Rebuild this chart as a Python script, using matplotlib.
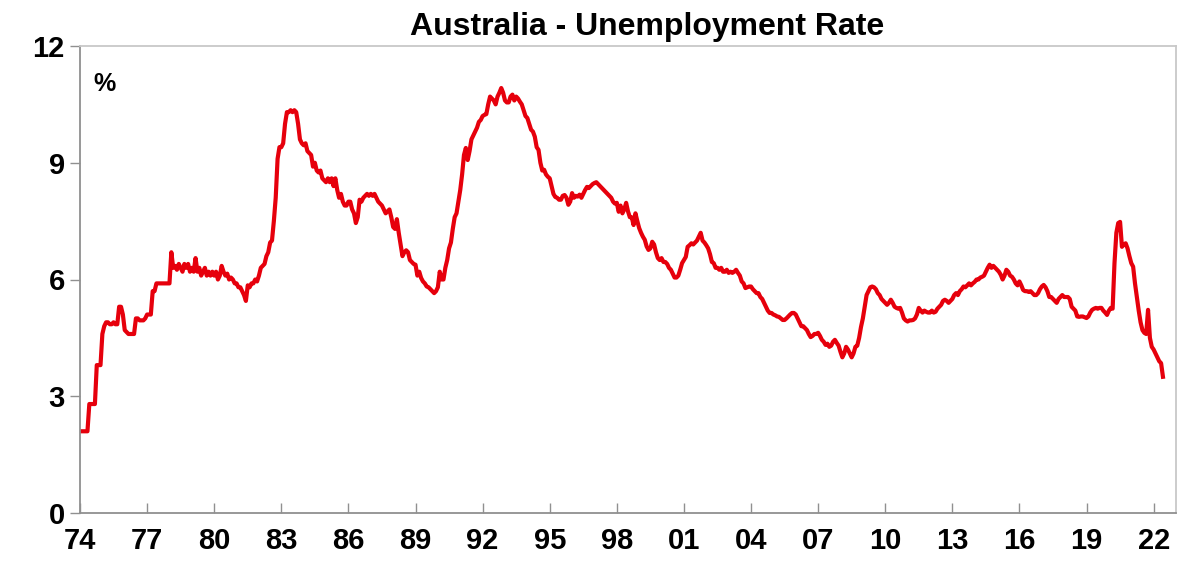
import matplotlib
matplotlib.use("Agg")
import matplotlib.pyplot as plt
import numpy as np

plt.rcParams['font.family'] = ['Liberation Sans', 'DejaVu Sans']

# monthly unemployment rate (%), Jan 1974 onwards
rate_1970s = [
    2.1, 2.1, 2.1, 2.1, 2.1, 2.8, 2.8, 2.8, 2.8, 3.8, 3.8, 3.8,          # 1974
    4.6, 4.8, 4.9, 4.9, 4.85, 4.85, 4.9, 4.85, 4.85, 5.3, 5.3, 5.1,      # 1975
    4.7, 4.65, 4.6, 4.6, 4.6, 4.6, 5.0, 5.0, 4.95, 4.95, 4.95, 5.0,      # 1976
    5.1, 5.1, 5.1, 5.7, 5.7, 5.9, 5.9, 5.9, 5.9, 5.9, 5.9, 5.9,          # 1977
    5.9, 6.7, 6.3, 6.35, 6.25, 6.4, 6.3, 6.2, 6.4, 6.3, 6.4, 6.2,        # 1978
    6.3, 6.2, 6.55, 6.2, 6.3, 6.1, 6.2, 6.3, 6.1, 6.2, 6.1, 6.2,         # 1979
]
rate_1980s = [
    6.1, 6.2, 6.0, 6.1, 6.35, 6.2, 6.1, 6.15, 6.0, 6.05, 6.0, 5.9,       # 1980
    5.9, 5.8, 5.8, 5.7, 5.6, 5.45, 5.85, 5.8, 5.9, 5.9, 6.0, 5.95,       # 1981
    6.1, 6.3, 6.35, 6.4, 6.6, 6.7, 6.95, 7.0, 7.5, 8.1, 9.1, 9.4,        # 1982
    9.4, 9.5, 10.0, 10.3, 10.3, 10.35, 10.3, 10.35, 10.3, 10.0, 9.6, 9.5,  # 1983
    9.45, 9.5, 9.3, 9.25, 9.2, 8.9, 9.0, 8.8, 8.75, 8.8, 8.6, 8.55,      # 1984
    8.5, 8.6, 8.5, 8.6, 8.4, 8.6, 8.3, 8.1, 8.2, 8.0, 7.9, 7.9,          # 1985
    8.0, 8.0, 7.8, 7.7, 7.45, 7.6, 8.05, 8.0, 8.1, 8.15, 8.2, 8.15,      # 1986
    8.2, 8.15, 8.2, 8.1, 8.0, 7.95, 7.9, 7.8, 7.7, 7.75, 7.8, 7.6,       # 1987
    7.35, 7.3, 7.55, 7.2, 6.9, 6.6, 6.7, 6.75, 6.7, 6.5, 6.45, 6.4,      # 1988
    6.38, 6.1, 6.2, 6.04, 5.95, 5.9, 5.82, 5.8, 5.75, 5.7, 5.65, 5.7,    # 1989
]
rate_1990s = [
    5.8, 6.2, 6.0, 6.0, 6.3, 6.5, 6.8, 6.95, 7.3, 7.6, 7.7, 8.0,         # 1990
    8.3, 8.7, 9.2, 9.38, 9.07, 9.3, 9.6, 9.7, 9.8, 9.9, 10.05, 10.1,     # 1991
    10.2, 10.23, 10.25, 10.5, 10.7, 10.65, 10.6, 10.5, 10.7, 10.8, 10.92, 10.8,  # 1992
    10.6, 10.55, 10.55, 10.7, 10.75, 10.6, 10.7, 10.65, 10.57, 10.5, 10.35, 10.2,  # 1993
    10.15, 10.0, 9.85, 9.8, 9.67, 9.4, 9.33, 9.0, 8.8, 8.82, 8.7, 8.64,  # 1994
    8.6, 8.4, 8.2, 8.12, 8.1, 8.05, 8.05, 8.15, 8.17, 8.1, 7.92, 8.0,    # 1995
    8.22, 8.1, 8.15, 8.13, 8.18, 8.1, 8.2, 8.3, 8.38, 8.35, 8.4, 8.45,   # 1996
    8.48, 8.5, 8.45, 8.4, 8.35, 8.3, 8.25, 8.2, 8.15, 8.1, 8.0, 7.95,    # 1997
    7.97, 7.74, 7.9, 7.7, 7.8, 7.97, 7.75, 7.6, 7.6, 7.4, 7.7, 7.5,      # 1998
    7.32, 7.2, 7.1, 7.02, 6.85, 6.76, 6.8, 6.97, 6.9, 6.7, 6.55, 6.5,    # 1999
]
rate_2000s = [
    6.55, 6.45, 6.45, 6.4, 6.3, 6.25, 6.15, 6.05, 6.05, 6.1, 6.25, 6.42,  # 2000
    6.5, 6.58, 6.84, 6.88, 6.93, 6.9, 6.95, 7.0, 7.1, 7.2, 7.0, 6.95,    # 2001
    6.88, 6.8, 6.65, 6.45, 6.42, 6.3, 6.3, 6.25, 6.3, 6.2, 6.2, 6.25,    # 2002
    6.17, 6.2, 6.17, 6.2, 6.25, 6.17, 6.1, 5.95, 5.9, 5.78, 5.8, 5.82,   # 2003
    5.82, 5.75, 5.7, 5.65, 5.65, 5.55, 5.5, 5.4, 5.3, 5.2, 5.14, 5.14,   # 2004
    5.1, 5.08, 5.05, 5.04, 5.0, 4.96, 4.96, 5.0, 5.05, 5.1, 5.14, 5.14,  # 2005
    5.1, 5.0, 4.9, 4.8, 4.8, 4.75, 4.7, 4.6, 4.52, 4.55, 4.6, 4.6,       # 2006
    4.63, 4.55, 4.45, 4.4, 4.32, 4.35, 4.27, 4.3, 4.4, 4.45, 4.37, 4.3,  # 2007
    4.14, 4.0, 4.1, 4.27, 4.2, 4.1, 4.0, 4.1, 4.27, 4.3, 4.5, 4.78,      # 2008
    5.0, 5.3, 5.6, 5.7, 5.8, 5.82, 5.8, 5.75, 5.65, 5.6, 5.5, 5.45,      # 2009
]
rate_2010s = [
    5.4, 5.35, 5.4, 5.48, 5.4, 5.3, 5.27, 5.25, 5.27, 5.15, 5.0, 4.95,   # 2010
    4.92, 4.95, 4.95, 4.96, 5.0, 5.1, 5.27, 5.2, 5.15, 5.2, 5.17, 5.15,  # 2011
    5.15, 5.2, 5.15, 5.17, 5.25, 5.3, 5.35, 5.45, 5.48, 5.45, 5.4, 5.45,  # 2012
    5.5, 5.6, 5.65, 5.6, 5.7, 5.75, 5.82, 5.8, 5.85, 5.9, 5.85, 5.9,     # 2013
    5.94, 6.0, 6.0, 6.05, 6.07, 6.1, 6.2, 6.3, 6.38, 6.3, 6.35, 6.3,     # 2014
    6.25, 6.2, 6.12, 6.0, 6.1, 6.25, 6.2, 6.1, 6.07, 6.0, 5.9, 5.85,     # 2015
    5.95, 5.85, 5.73, 5.7, 5.7, 5.68, 5.7, 5.65, 5.6, 5.6, 5.65, 5.75,   # 2016
    5.82, 5.86, 5.8, 5.7, 5.55, 5.55, 5.5, 5.45, 5.4, 5.5, 5.55, 5.6,    # 2017
    5.55, 5.55, 5.55, 5.5, 5.3, 5.25, 5.2, 5.05, 5.04, 5.05, 5.05, 5.03,  # 2018
    5.01, 5.05, 5.15, 5.22, 5.25, 5.27, 5.25, 5.27, 5.27, 5.2, 5.15, 5.09,  # 2019
]
rate_2020s = [
    5.2, 5.27, 5.25, 6.42, 7.2, 7.45, 7.48, 6.84, 6.9, 6.93, 6.8, 6.6,   # 2020
    6.42, 6.33, 5.9, 5.55, 5.2, 4.9, 4.7, 4.63, 4.6, 5.22, 4.5, 4.27,    # 2021
    4.2, 4.1, 4.0, 3.9, 3.85, 3.5,                                       # 2022 (to Jun)
]
start_year = 1974

year_ticks = list(range(1974, 2023, 3))
year_labels = ['74', '77', '80', '83', '86', '89', '92', '95', '98',
               '01', '04', '07', '10', '13', '16', '19', '22']
y_ticks = [0, 3, 6, 9, 12]

rate = np.array(rate_1970s + rate_1980s + rate_1990s + rate_2000s
                + rate_2010s + rate_2020s)
dates = start_year + np.arange(len(rate)) / 12

fig = plt.figure(figsize=(11.79, 5.61), dpi=100)
ax = fig.add_axes([80 / 1179, 1 - 513 / 561, 1096 / 1179, 467 / 561])

ax.plot(dates, rate, color='#e6000c', lw=3.0, solid_joinstyle='round')

ax.set_xlim(1974, 2023)
ax.set_ylim(0, 12)
ax.set_xticks(year_ticks)
ax.set_xticklabels(year_labels)
ax.set_yticks(y_ticks)

for lbl in ax.get_xticklabels() + ax.get_yticklabels():
    lbl.set_fontweight('bold')
    lbl.set_fontsize(21)

ax.tick_params(axis='x', direction='in', length=7, width=1, color='#909090', pad=10)
ax.tick_params(axis='y', direction='out', length=7, width=1, color='#909090', pad=4)

for side in ['left', 'bottom']:
    ax.spines[side].set_color('#909090')
    ax.spines[side].set_linewidth(1.3)
for side in ['top', 'right']:
    ax.spines[side].set_color('#c8c8c8')
    ax.spines[side].set_linewidth(1.3)

ax.text(0.012, 0.945, '%', transform=ax.transAxes, fontsize=18,
        fontweight='bold', va='top', ha='left')

fig.text(647 / 1179, 1 - 35 / 561, 'Australia - Unemployment Rate',
         fontsize=23, fontweight='bold', ha='center', va='baseline')

fig.savefig('out.png', dpi=100)
